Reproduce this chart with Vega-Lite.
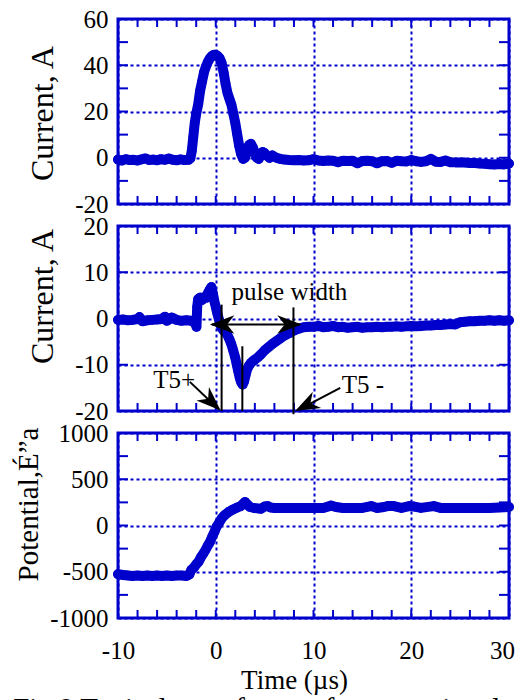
{
  "$schema": "https://vega.github.io/schema/vega-lite/v6.json",
  "padding": {"left": 13, "top": 5, "right": 4, "bottom": 5},
  "background": "white",
  "bounds": "flush",
  "spacing": 22,
  "title": {"text": "Fig.9 Typical waveforms of current signal", "orient": "bottom", "anchor": "start", "frame": "bounds", "fontSize": 29, "font": "Liberation Serif", "fontWeight": "normal", "color": "black", "offset": 0},
  "config": {
    "font": "Liberation Serif",
    "view": {"stroke": "#0000CC", "strokeWidth": 3},
    "axis": {
      "labelFont": "Liberation Serif", "labelFontSize": 25, "labelColor": "black",
      "titleFont": "Liberation Serif", "titleFontSize": 32, "titleFontWeight": "normal", "titleColor": "black",
      "domain": false, "ticks": false, "gridColor": "#0000CC", "gridDash": [3, 3], "gridWidth": 2,
      "labelOverlap": false, "labelFlush": false, "labelBound": false
    }
  },
  "datasets": {
    "xt": [{"v": -10}, {"v": -8}, {"v": -6}, {"v": -4}, {"v": -2}, {"v": 0}, {"v": 2}, {"v": 4}, {"v": 6}, {"v": 8}, {"v": 10},
      {"v": 12}, {"v": 14}, {"v": 16}, {"v": 18}, {"v": 20}, {"v": 22}, {"v": 24}, {"v": 26}, {"v": 28}, {"v": 30}],
    "yt1": [{"v": -20}, {"v": -10}, {"v": 0}, {"v": 10}, {"v": 20}, {"v": 30}, {"v": 40}, {"v": 50}, {"v": 60}],
    "yt2": [{"v": -20}, {"v": -10}, {"v": 0}, {"v": 10}, {"v": 20}],
    "yt3": [{"v": -1000}, {"v": -750}, {"v": -500}, {"v": -250}, {"v": 0}, {"v": 250}, {"v": 500}, {"v": 750}, {"v": 1000}],
    "p1": [
      {"t": -10, "v": -0.8}, {"t": -9.6, "v": -1.2}, {"t": -9.2, "v": -0.6}, {"t": -8.8, "v": -1.0}, {"t": -8.4, "v": -0.9},
      {"t": -8, "v": -1.2}, {"t": -7.6, "v": -0.7}, {"t": -7.2, "v": -0.3}, {"t": -6.8, "v": -1.0}, {"t": -6.4, "v": -0.8},
      {"t": -6, "v": -1.1}, {"t": -5.6, "v": -0.6}, {"t": -5.2, "v": -0.9}, {"t": -4.8, "v": -0.3}, {"t": -4.4, "v": -0.9},
      {"t": -4, "v": -1.1}, {"t": -3.6, "v": -0.7}, {"t": -3.2, "v": -1.0}, {"t": -2.8, "v": -0.9}, {"t": -2.6, "v": -0.3},
      {"t": -2.45, "v": 3}, {"t": -2.3, "v": 9}, {"t": -2.15, "v": 15}, {"t": -2.0, "v": 19}, {"t": -1.8, "v": 23},
      {"t": -1.6, "v": 29}, {"t": -1.4, "v": 33}, {"t": -1.2, "v": 37}, {"t": -1.0, "v": 39.5}, {"t": -0.8, "v": 41.5},
      {"t": -0.6, "v": 43}, {"t": -0.4, "v": 44}, {"t": -0.2, "v": 44.5}, {"t": 0, "v": 44.5}, {"t": 0.2, "v": 44},
      {"t": 0.4, "v": 43}, {"t": 0.6, "v": 41}, {"t": 0.8, "v": 37}, {"t": 1.0, "v": 32}, {"t": 1.2, "v": 28},
      {"t": 1.4, "v": 25.5}, {"t": 1.6, "v": 23}, {"t": 1.8, "v": 19}, {"t": 2.0, "v": 15}, {"t": 2.2, "v": 10},
      {"t": 2.4, "v": 5}, {"t": 2.6, "v": 1.5}, {"t": 2.8, "v": -0.5}, {"t": 3.0, "v": 0}, {"t": 3.2, "v": 3},
      {"t": 3.4, "v": 5.5}, {"t": 3.6, "v": 6}, {"t": 3.8, "v": 4.5}, {"t": 4.0, "v": 2}, {"t": 4.2, "v": 0},
      {"t": 4.4, "v": -0.5}, {"t": 4.6, "v": 1}, {"t": 4.8, "v": 2.5}, {"t": 5.0, "v": 2}, {"t": 5.2, "v": 1},
      {"t": 5.5, "v": 0}, {"t": 5.8, "v": 1}, {"t": 6.2, "v": 0}, {"t": 6.6, "v": -0.5}, {"t": 7.0, "v": -0.8},
      {"t": 7.5, "v": -1}, {"t": 8, "v": -1.1}, {"t": 8.5, "v": -1}, {"t": 9, "v": -1.2}, {"t": 9.5, "v": -1.1},
      {"t": 10, "v": -0.6}, {"t": 10.5, "v": -1.2}, {"t": 11, "v": -1.4}, {"t": 11.5, "v": -1.2}, {"t": 12, "v": -1.3},
      {"t": 12.5, "v": -1.9}, {"t": 13, "v": -1.3}, {"t": 13.5, "v": -1.4}, {"t": 14, "v": -1.3}, {"t": 14.5, "v": -2.4},
      {"t": 15, "v": -1.4}, {"t": 15.5, "v": -1.3}, {"t": 16, "v": -1.5}, {"t": 16.5, "v": -2.4}, {"t": 17, "v": -1.5},
      {"t": 17.5, "v": -1.4}, {"t": 18, "v": -2.2}, {"t": 18.5, "v": -1.3}, {"t": 19, "v": -1.5}, {"t": 19.5, "v": -1.6},
      {"t": 20, "v": -1}, {"t": 20.5, "v": -1.5}, {"t": 21, "v": -1.8}, {"t": 21.5, "v": -1.5}, {"t": 22, "v": -0.5},
      {"t": 22.5, "v": -1.7}, {"t": 23, "v": -1.8}, {"t": 23.5, "v": -1.2}, {"t": 24, "v": -1.9}, {"t": 24.5, "v": -2},
      {"t": 25, "v": -2}, {"t": 25.5, "v": -2.1}, {"t": 26, "v": -2.3}, {"t": 26.5, "v": -2.3}, {"t": 27, "v": -2.5},
      {"t": 27.5, "v": -2.6}, {"t": 28, "v": -2.8}, {"t": 28.5, "v": -2.9}, {"t": 29, "v": -2.7}, {"t": 29.5, "v": -2.9},
      {"t": 30, "v": -2.5}
    ],
    "p2": [
      {"t": -10, "v": -0.3}, {"t": -9.5, "v": -0.2}, {"t": -9, "v": -0.4}, {"t": -8.5, "v": -0.3}, {"t": -8, "v": -0.1},
      {"t": -7.8, "v": 0.3}, {"t": -7.5, "v": -0.6}, {"t": -7, "v": -0.4}, {"t": -6.5, "v": -0.3}, {"t": -6, "v": -0.2},
      {"t": -5.5, "v": -0.1}, {"t": -5.2, "v": 0.4}, {"t": -5, "v": -0.5}, {"t": -4.5, "v": 0.2}, {"t": -4, "v": -0.3},
      {"t": -3.5, "v": -0.5}, {"t": -3, "v": -0.4}, {"t": -2.5, "v": -0.5}, {"t": -2.1, "v": -1.0}, {"t": -1.97, "v": -1.8},
      {"t": -1.9, "v": 2.5}, {"t": -1.8, "v": 4.2}, {"t": -1.6, "v": 4.5}, {"t": -1.4, "v": 4.0}, {"t": -1.2, "v": 4.6},
      {"t": -1.0, "v": 4.5}, {"t": -0.8, "v": 5.5}, {"t": -0.6, "v": 6.3}, {"t": -0.45, "v": 6.8}, {"t": -0.3, "v": 5.5},
      {"t": -0.15, "v": 3.8}, {"t": 0.0, "v": 2.5}, {"t": 0.15, "v": 1.2}, {"t": 0.3, "v": 0.0}, {"t": 0.45, "v": -1.2},
      {"t": 0.6, "v": -2.0}, {"t": 0.8, "v": -2.6}, {"t": 1.0, "v": -3.0}, {"t": 1.2, "v": -3.6}, {"t": 1.4, "v": -4.5},
      {"t": 1.6, "v": -5.6}, {"t": 1.8, "v": -7.0}, {"t": 2.0, "v": -8.5}, {"t": 2.15, "v": -10.0}, {"t": 2.3, "v": -11.4},
      {"t": 2.45, "v": -12.8}, {"t": 2.6, "v": -13.8}, {"t": 2.75, "v": -14.3}, {"t": 2.9, "v": -13.6}, {"t": 3.05, "v": -12.3},
      {"t": 3.2, "v": -11.0}, {"t": 3.4, "v": -10.2}, {"t": 3.6, "v": -9.6}, {"t": 3.8, "v": -9.2}, {"t": 4.0, "v": -8.9},
      {"t": 4.3, "v": -8.4}, {"t": 4.6, "v": -7.8}, {"t": 5.0, "v": -6.9}, {"t": 5.4, "v": -6.2}, {"t": 5.8, "v": -5.5},
      {"t": 6.2, "v": -4.9}, {"t": 6.6, "v": -4.3}, {"t": 7.0, "v": -3.7}, {"t": 7.5, "v": -3.2}, {"t": 8.0, "v": -2.6},
      {"t": 8.5, "v": -2.2}, {"t": 9.0, "v": -1.9}, {"t": 9.5, "v": -1.8}, {"t": 10, "v": -1.8}, {"t": 10.5, "v": -1.6},
      {"t": 11, "v": -1.9}, {"t": 11.5, "v": -1.8}, {"t": 12, "v": -1.6}, {"t": 12.5, "v": -1.9}, {"t": 13, "v": -1.8},
      {"t": 13.5, "v": -2.0}, {"t": 14, "v": -1.9}, {"t": 14.5, "v": -1.8}, {"t": 15, "v": -2.0}, {"t": 15.5, "v": -1.9},
      {"t": 16, "v": -1.9}, {"t": 16.5, "v": -1.8}, {"t": 17, "v": -1.9}, {"t": 17.5, "v": -1.8}, {"t": 18, "v": -1.8},
      {"t": 18.5, "v": -1.7}, {"t": 19, "v": -1.8}, {"t": 19.5, "v": -1.7}, {"t": 20, "v": -1.6}, {"t": 20.5, "v": -1.7},
      {"t": 21, "v": -1.6}, {"t": 21.5, "v": -1.5}, {"t": 22, "v": -1.5}, {"t": 22.5, "v": -1.4}, {"t": 23, "v": -1.4},
      {"t": 23.5, "v": -1.3}, {"t": 24, "v": -1.2}, {"t": 24.5, "v": -1.3}, {"t": 25, "v": -0.8}, {"t": 25.5, "v": -0.7},
      {"t": 26, "v": -0.6}, {"t": 26.5, "v": -0.6}, {"t": 27, "v": -0.5}, {"t": 27.5, "v": -0.5}, {"t": 28, "v": -0.4},
      {"t": 28.5, "v": -0.5}, {"t": 29, "v": -0.4}, {"t": 29.5, "v": -0.5}, {"t": 30, "v": -0.4}
    ],
    "p3": [
      {"t": -10, "v": -525}, {"t": -9.5, "v": -535}, {"t": -9, "v": -540}, {"t": -8.5, "v": -545}, {"t": -8, "v": -540},
      {"t": -7.5, "v": -545}, {"t": -7, "v": -540}, {"t": -6.5, "v": -545}, {"t": -6, "v": -540}, {"t": -5.5, "v": -545},
      {"t": -5, "v": -540}, {"t": -4.5, "v": -545}, {"t": -4, "v": -540}, {"t": -3.5, "v": -540}, {"t": -3, "v": -545},
      {"t": -2.7, "v": -530}, {"t": -2.5, "v": -480}, {"t": -2.2, "v": -450}, {"t": -2.0, "v": -420}, {"t": -1.75, "v": -390},
      {"t": -1.5, "v": -340}, {"t": -1.25, "v": -300}, {"t": -1.05, "v": -265}, {"t": -0.8, "v": -215}, {"t": -0.6, "v": -180},
      {"t": -0.35, "v": -117}, {"t": -0.1, "v": -60}, {"t": 0.1, "v": -10}, {"t": 0.35, "v": 30}, {"t": 0.6, "v": 75},
      {"t": 0.8, "v": 100}, {"t": 1.0, "v": 120}, {"t": 1.3, "v": 145}, {"t": 1.7, "v": 170}, {"t": 2.1, "v": 190},
      {"t": 2.55, "v": 210}, {"t": 2.8, "v": 235}, {"t": 3.0, "v": 255}, {"t": 3.2, "v": 230}, {"t": 3.5, "v": 200},
      {"t": 3.9, "v": 190}, {"t": 4.3, "v": 185}, {"t": 4.6, "v": 180}, {"t": 5.0, "v": 205}, {"t": 5.3, "v": 210},
      {"t": 5.6, "v": 195}, {"t": 6, "v": 190}, {"t": 7, "v": 190}, {"t": 8, "v": 188}, {"t": 9, "v": 190},
      {"t": 10, "v": 188}, {"t": 11, "v": 190}, {"t": 11.8, "v": 215}, {"t": 12.3, "v": 200}, {"t": 13, "v": 190},
      {"t": 14, "v": 190}, {"t": 15, "v": 190}, {"t": 15.9, "v": 210}, {"t": 16.5, "v": 190}, {"t": 17.2, "v": 200},
      {"t": 17.6, "v": 210}, {"t": 18.2, "v": 210}, {"t": 19, "v": 190}, {"t": 19.8, "v": 210}, {"t": 20.3, "v": 205},
      {"t": 21, "v": 190}, {"t": 22.3, "v": 210}, {"t": 23, "v": 190}, {"t": 24, "v": 190}, {"t": 25, "v": 188},
      {"t": 26, "v": 190}, {"t": 27, "v": 190}, {"t": 28, "v": 190}, {"t": 29, "v": 195}, {"t": 30, "v": 200}
    ]
  },
  "vconcat": [
    {
      "width": 391, "height": 185,
      "layer": [
        {
          "data": {"name": "p1"},
          "mark": {"type": "line", "color": "#0000CC", "strokeWidth": 10, "strokeCap": "round", "strokeJoin": "round"},
          "encoding": {
            "x": {"field": "t", "type": "quantitative", "scale": {"domain": [-10, 30], "nice": false, "zero": false},
              "axis": {"orient": "bottom", "values": [-10,0,10,20,30], "labels": false, "title": null, "grid": true}},
            "y": {"field": "v", "type": "quantitative", "scale": {"domain": [-20, 60], "nice": false, "zero": false},
              "axis": {"orient": "left", "values": [-20,0,20,40,60], "labelPadding": 10, "title": "Current, A", "titlePadding": 15, "titleY": 94, "grid": true,
                "labelExpr": "'' + datum.value"}}
          }
        },
        {
          "data": {"name": "p1"},
          "mark": {"type": "point", "filled": true, "size": 90, "color": "#0000CC", "opacity": 1},
          "encoding": {"x": {"field": "t", "type": "quantitative"}, "y": {"field": "v", "type": "quantitative"}}
        },
        {
          "data": {"name": "xt"},
          "mark": {"type": "tick", "orient": "vertical", "size": 16, "thickness": 2, "color": "#0000CC", "opacity": 1, "clip": true},
          "encoding": {"x": {"field": "v", "type": "quantitative"}, "y": {"datum": 60, "type": "quantitative"}}
        },
        {
          "data": {"name": "xt"},
          "mark": {"type": "tick", "orient": "vertical", "size": 16, "thickness": 2, "color": "#0000CC", "opacity": 1, "clip": true},
          "encoding": {"x": {"field": "v", "type": "quantitative"}, "y": {"datum": -20, "type": "quantitative"}}
        },
        {
          "data": {"name": "yt1"},
          "mark": {"type": "tick", "orient": "horizontal", "size": 20, "thickness": 2, "color": "#0000CC", "opacity": 1, "clip": true},
          "encoding": {"y": {"field": "v", "type": "quantitative"}, "x": {"datum": -10, "type": "quantitative"}}
        },
        {
          "data": {"name": "yt1"},
          "mark": {"type": "tick", "orient": "horizontal", "size": 20, "thickness": 2, "color": "#0000CC", "opacity": 1, "clip": true},
          "encoding": {"y": {"field": "v", "type": "quantitative"}, "x": {"datum": 30, "type": "quantitative"}}
        }
      ]
    },
    {
      "width": 391, "height": 185,
      "layer": [
        {
          "data": {"name": "p2"},
          "mark": {"type": "line", "color": "#0000CC", "strokeWidth": 10, "strokeCap": "round", "strokeJoin": "round"},
          "encoding": {
            "x": {"field": "t", "type": "quantitative", "scale": {"domain": [-10, 30], "nice": false, "zero": false},
              "axis": {"orient": "bottom", "values": [-10,0,10,20,30], "labels": false, "title": null, "grid": true}},
            "y": {"field": "v", "type": "quantitative", "scale": {"domain": [-20, 20], "nice": false, "zero": false},
              "axis": {"orient": "left", "values": [-20,-10,0,10,20], "labelPadding": 10, "title": "Current, A", "titlePadding": 15, "titleY": 70, "grid": true,
                "labelExpr": "'' + datum.value"}}
          }
        },
        {
          "data": {"name": "p2"},
          "mark": {"type": "point", "filled": true, "size": 90, "color": "#0000CC", "opacity": 1},
          "encoding": {"x": {"field": "t", "type": "quantitative"}, "y": {"field": "v", "type": "quantitative"}}
        },
        {
          "data": {"name": "xt"},
          "mark": {"type": "tick", "orient": "vertical", "size": 16, "thickness": 2, "color": "#0000CC", "opacity": 1, "clip": true},
          "encoding": {"x": {"field": "v", "type": "quantitative"}, "y": {"datum": 20, "type": "quantitative"}}
        },
        {
          "data": {"name": "xt"},
          "mark": {"type": "tick", "orient": "vertical", "size": 16, "thickness": 2, "color": "#0000CC", "opacity": 1, "clip": true},
          "encoding": {"x": {"field": "v", "type": "quantitative"}, "y": {"datum": -20, "type": "quantitative"}}
        },
        {
          "data": {"name": "yt2"},
          "mark": {"type": "tick", "orient": "horizontal", "size": 20, "thickness": 2, "color": "#0000CC", "opacity": 1, "clip": true},
          "encoding": {"y": {"field": "v", "type": "quantitative"}, "x": {"datum": -10, "type": "quantitative"}}
        },
        {
          "data": {"name": "yt2"},
          "mark": {"type": "tick", "orient": "horizontal", "size": 20, "thickness": 2, "color": "#0000CC", "opacity": 1, "clip": true},
          "encoding": {"y": {"field": "v", "type": "quantitative"}, "x": {"datum": 30, "type": "quantitative"}}
        },
        {
          "data": {"values": [
            {"x": 0.6, "y": 3.0, "x2": 0.6, "y2": -20},
            {"x": 2.72, "y": -6.0, "x2": 2.72, "y2": -20},
            {"x": 7.95, "y": 2.4, "x2": 7.95, "y2": -20.7},
            {"x": -0.4, "y": -1.3, "x2": 8.6, "y2": -1.3},
            {"x": -2.65, "y": -13.7, "x2": 0.3, "y2": -19.6},
            {"x": 12.74, "y": -15.0, "x2": 8.4, "y2": -19.8}
          ]},
          "mark": {"type": "rule", "color": "black", "strokeWidth": 2},
          "encoding": {
            "x": {"field": "x", "type": "quantitative"}, "y": {"field": "y", "type": "quantitative"},
            "x2": {"field": "x2"}, "y2": {"field": "y2"}
          }
        },
        {
          "data": {"values": [{"x": -0.6, "y": -1.3}]},
          "mark": {"type": "point", "shape": "M0,0 L-2,-0.75 L-1.4,0 L-2,0.75 Z", "angle": 180, "size": 600, "filled": true, "color": "black", "opacity": 1},
          "encoding": {"x": {"field": "x", "type": "quantitative"}, "y": {"field": "y", "type": "quantitative"}}
        },
        {
          "data": {"values": [{"x": 8.8, "y": -1.3}]},
          "mark": {"type": "point", "shape": "M0,0 L-2,-0.75 L-1.4,0 L-2,0.75 Z", "angle": 0, "size": 600, "filled": true, "color": "black", "opacity": 1},
          "encoding": {"x": {"field": "x", "type": "quantitative"}, "y": {"field": "y", "type": "quantitative"}}
        },
        {
          "data": {"values": [{"x": 0.5, "y": -19.9}]},
          "mark": {"type": "point", "shape": "M0,0 L-2,-0.75 L-1.4,0 L-2,0.75 Z", "angle": 43, "size": 600, "filled": true, "color": "black", "opacity": 1},
          "encoding": {"x": {"field": "x", "type": "quantitative"}, "y": {"field": "y", "type": "quantitative"}}
        },
        {
          "data": {"values": [{"x": 8.12, "y": -20}]},
          "mark": {"type": "point", "shape": "M0,0 L-2,-0.75 L-1.4,0 L-2,0.75 Z", "angle": 153, "size": 600, "filled": true, "color": "black", "opacity": 1},
          "encoding": {"x": {"field": "x", "type": "quantitative"}, "y": {"field": "y", "type": "quantitative"}}
        },
        {
          "data": {"values": [
            {"x": 1.6, "y": 4.1, "label": "pulse width"},
            {"x": -6.4, "y": -15.0, "label": "T5+"},
            {"x": 12.9, "y": -16.1, "label": "T5 -"}
          ]},
          "mark": {"type": "text", "align": "left", "baseline": "alphabetic", "fontSize": 25, "font": "Liberation Serif", "color": "black"},
          "encoding": {"x": {"field": "x", "type": "quantitative"}, "y": {"field": "y", "type": "quantitative"}, "text": {"field": "label"}}
        }
      ]
    },
    {
      "width": 391, "height": 185,
      "layer": [
        {
          "data": {"name": "p3"},
          "mark": {"type": "line", "color": "#0000CC", "strokeWidth": 10, "strokeCap": "round", "strokeJoin": "round"},
          "encoding": {
            "x": {"field": "t", "type": "quantitative", "scale": {"domain": [-10, 30], "nice": false, "zero": false},
              "axis": {"orient": "bottom", "values": [-10,0,10,20,30], "labels": true, "labelPadding": 20,
                "labelExpr": "'' + datum.value",
                "labelOffset": {"condition": {"test": "datum.value === 30", "value": -7}, "value": 0},
                "title": "Time (µs)", "titleFontSize": 27, "titlePadding": 4, "titleX": 176, "grid": true}},
            "y": {"field": "v", "type": "quantitative", "scale": {"domain": [-1000, 1000], "nice": false, "zero": false},
              "axis": {"orient": "left", "values": [-1000,-500,0,500,1000], "labelPadding": 10, "title": "Potential,É”a", "titleFontSize": 29, "titlePadding": 6, "titleY": 71, "grid": true,
                "labelExpr": "'' + datum.value"}}
          }
        },
        {
          "data": {"name": "p3"},
          "mark": {"type": "point", "filled": true, "size": 90, "color": "#0000CC", "opacity": 1},
          "encoding": {"x": {"field": "t", "type": "quantitative"}, "y": {"field": "v", "type": "quantitative"}}
        },
        {
          "data": {"name": "xt"},
          "mark": {"type": "tick", "orient": "vertical", "size": 16, "thickness": 2, "color": "#0000CC", "opacity": 1, "clip": true},
          "encoding": {"x": {"field": "v", "type": "quantitative"}, "y": {"datum": 1000, "type": "quantitative"}}
        },
        {
          "data": {"name": "xt"},
          "mark": {"type": "tick", "orient": "vertical", "size": 16, "thickness": 2, "color": "#0000CC", "opacity": 1, "clip": true},
          "encoding": {"x": {"field": "v", "type": "quantitative"}, "y": {"datum": -1000, "type": "quantitative"}}
        },
        {
          "data": {"name": "yt3"},
          "mark": {"type": "tick", "orient": "horizontal", "size": 20, "thickness": 2, "color": "#0000CC", "opacity": 1, "clip": true},
          "encoding": {"y": {"field": "v", "type": "quantitative"}, "x": {"datum": -10, "type": "quantitative"}}
        },
        {
          "data": {"name": "yt3"},
          "mark": {"type": "tick", "orient": "horizontal", "size": 20, "thickness": 2, "color": "#0000CC", "opacity": 1, "clip": true},
          "encoding": {"y": {"field": "v", "type": "quantitative"}, "x": {"datum": 30, "type": "quantitative"}}
        }
      ]
    }
  ]
}
